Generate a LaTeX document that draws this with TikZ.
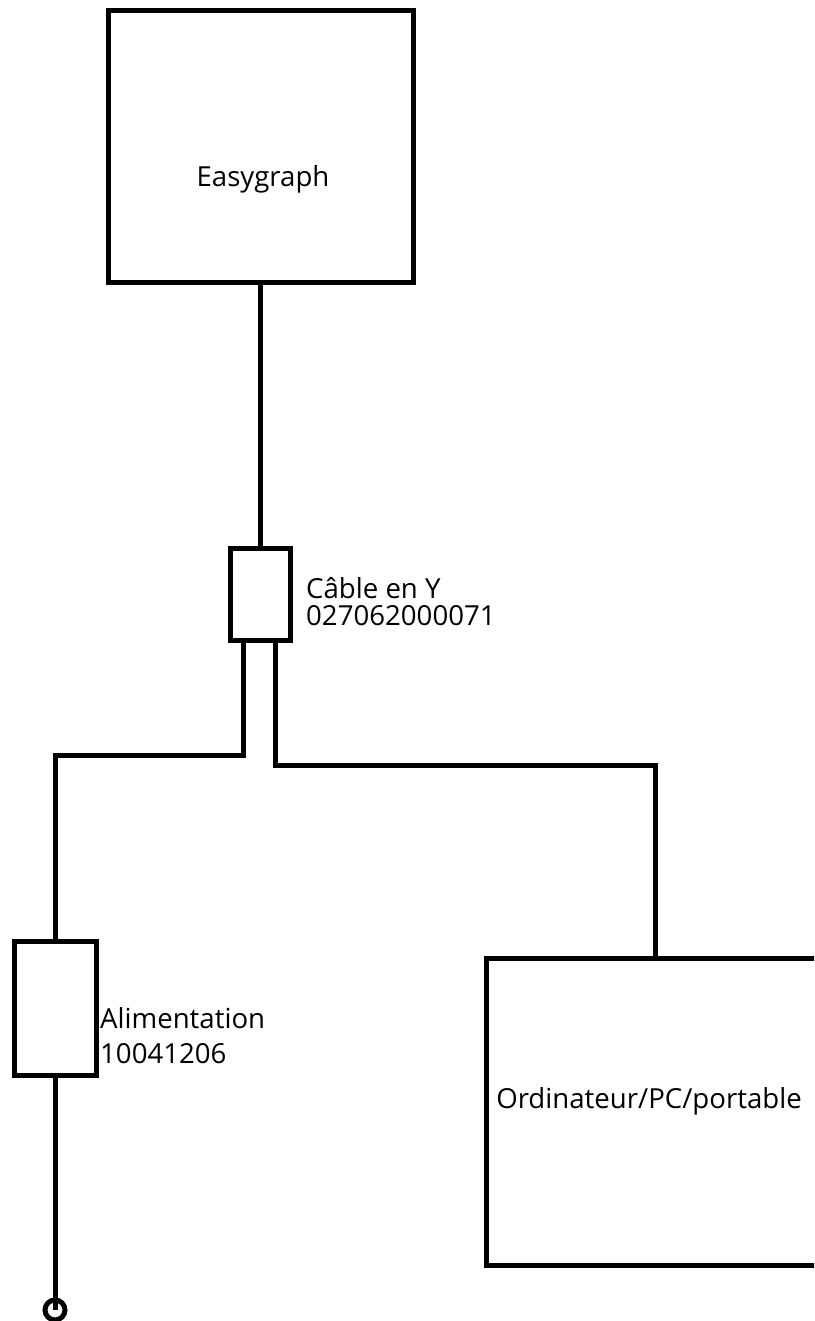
\documentclass[tikz,border=0pt]{standalone}
\usepackage{fontspec}
\setmainfont{Open Sans}
\tikzset{
  wire/.style={line width=5pt},
  unit/.style={draw, rectangle, line width=5pt, inner sep=0pt, outer sep=0pt},
  lbl/.style={inner sep=0pt, font=\fontsize{27.6}{27}\selectfont}
}
\begin{document}
\begin{tikzpicture}[x=1pt, y=-1pt]
        \useasboundingbox (0,0) rectangle (814,1321);
        \clip (0,0) rectangle (814,1321);

        % Boxes
        \node[unit, minimum width=305, minimum height=272] (easy) at (260.5,147) {};
        \node[unit, minimum width=60, minimum height=92] (ycable) at (260,594) {};
        \node[unit, minimum width=82, minimum height=134] (alim) at (55,1008) {};
        \node[unit, minimum width=338, minimum height=307] (pc) at (655,1111.5) {};
        \node[draw, circle, line width=5pt, minimum size=20, inner sep=0pt] (plug) at (55,1310) {};

        % Texts
        \node[lbl, anchor=base] (easytxt) at (263,187) {Easygraph};
        \node[lbl, anchor=base] (pctxt) at (649,1108) {Ordinateur/PC/portable};
        \node[lbl, anchor=west, align=left] (ytxt) at (306,601.5) {Câble en Y\\027062000071};
        \node[lbl, anchor=west, align=left, font=\fontsize{27.6}{35}\selectfont] (alimtxt) at (100,1035.5) {Alimentation\\10041206};

        % Cables
        \coordinate (legL) at (243,755);
        \coordinate (legR) at (275,765);
        \draw[wire] (easy.south -| ycable.north) -- (ycable.north);
        \draw[wire] (ycable.south -| legL) -- (legL) -| (alim.north);
        \draw[wire] (ycable.south -| legR) -- (legR) -| (pc.north);
        \draw[wire] (alim.south) -- (plug.center);

    \end{tikzpicture}
\end{document}
